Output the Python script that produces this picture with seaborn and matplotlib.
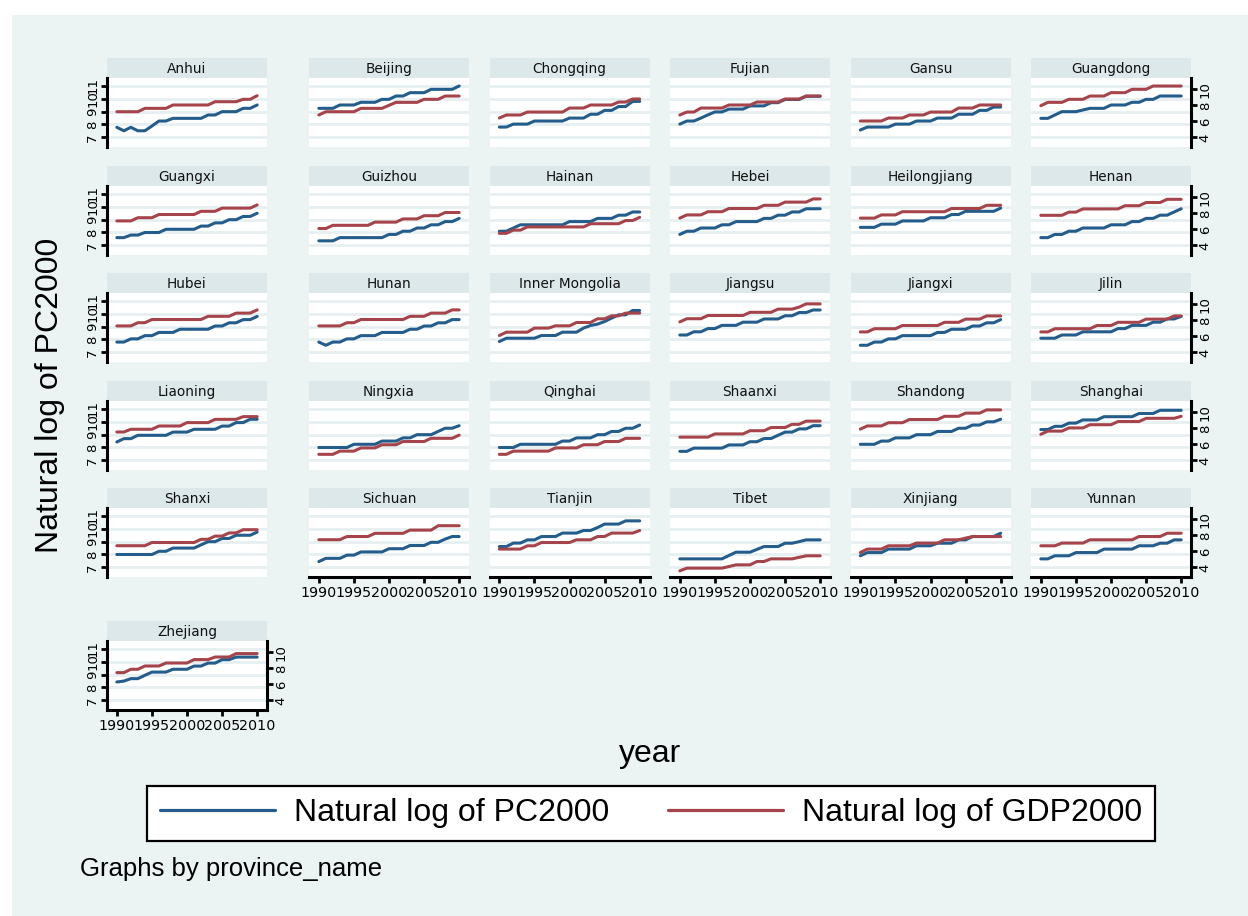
import matplotlib
matplotlib.use("Agg")
import matplotlib.pyplot as plt
import pandas as pd
import seaborn as sns
from matplotlib.patches import Rectangle
from matplotlib.lines import Line2D

sns.set_theme(style="white")
plt.rcParams['font.family'] = ['DejaVu Sans']
plt.rcParams['text.color'] = 'black'
plt.rcParams['xtick.color'] = 'black'
plt.rcParams['ytick.color'] = 'black'

years = list(range(1990, 2011))

provinces = ["Anhui", "Beijing", "Chongqing", "Fujian", "Gansu", "Guangdong",
             "Guangxi", "Guizhou", "Hainan", "Hebei", "Heilongjiang", "Henan",
             "Hubei", "Hunan", "Inner Mongolia", "Jiangsu", "Jiangxi", "Jilin",
             "Liaoning", "Ningxia", "Qinghai", "Shaanxi", "Shandong", "Shanghai",
             "Shanxi", "Sichuan", "Tianjin", "Tibet", "Xinjiang", "Yunnan",
             "Zhejiang"]

# Natural log of PC2000 (left axis) and GDP2000 (right axis), 1990-2010
pc_anhui = [7.78, 7.51, 7.78, 7.51, 7.51, 7.88, 8.27, 8.27, 8.48, 8.48, 8.48, 8.48, 8.48, 8.74, 8.74, 9.0, 9.0, 9.0, 9.26, 9.26, 9.52]
gdp_anhui = [7.2, 7.2, 7.2, 7.2, 7.62, 7.62, 7.62, 7.62, 8.04, 8.04, 8.04, 8.04, 8.04, 8.04, 8.45, 8.45, 8.45, 8.45, 8.75, 8.75, 9.2]
pc_beijing = [9.26, 9.26, 9.26, 9.52, 9.52, 9.52, 9.73, 9.73, 9.73, 9.96, 9.96, 10.22, 10.22, 10.48, 10.48, 10.48, 10.74, 10.74, 10.74, 10.74, 11.0]
gdp_beijing = [6.79, 7.2, 7.2, 7.2, 7.2, 7.2, 7.62, 7.62, 7.62, 7.62, 8.0, 8.37, 8.37, 8.37, 8.37, 8.75, 8.75, 8.75, 9.16, 9.16, 9.16]
pc_chongqing = [7.8, 7.8, 8.03, 8.03, 8.03, 8.27, 8.27, 8.27, 8.27, 8.27, 8.5, 8.5, 8.5, 8.8, 8.8, 9.1, 9.1, 9.4, 9.4, 9.8, 9.8]
gdp_chongqing = [6.41, 6.79, 6.79, 6.79, 7.16, 7.16, 7.16, 7.16, 7.16, 7.16, 7.66, 7.66, 7.66, 8.04, 8.04, 8.04, 8.04, 8.41, 8.41, 8.79, 8.79]
pc_fujian = [8.03, 8.27, 8.27, 8.5, 8.75, 8.98, 8.98, 9.2, 9.2, 9.2, 9.45, 9.45, 9.45, 9.7, 9.7, 9.95, 9.95, 9.95, 10.2, 10.2, 10.2]
gdp_fujian = [6.79, 7.16, 7.16, 7.66, 7.66, 7.66, 7.66, 8.04, 8.04, 8.04, 8.04, 8.41, 8.41, 8.41, 8.41, 8.79, 8.79, 8.79, 9.16, 9.16, 9.16]
pc_gansu = [7.57, 7.8, 7.8, 7.8, 7.8, 8.03, 8.03, 8.03, 8.27, 8.27, 8.27, 8.5, 8.5, 8.5, 8.8, 8.8, 8.8, 9.1, 9.1, 9.36, 9.36]
gdp_gansu = [6.04, 6.04, 6.04, 6.04, 6.41, 6.41, 6.41, 6.79, 6.79, 6.79, 7.16, 7.16, 7.16, 7.16, 7.66, 7.66, 7.66, 8.04, 8.04, 8.04, 8.04]
pc_guangdong = [8.48, 8.48, 8.74, 9.0, 9.0, 9.0, 9.13, 9.26, 9.26, 9.26, 9.52, 9.52, 9.52, 9.73, 9.73, 9.96, 9.96, 10.22, 10.22, 10.22, 10.22]
gdp_guangdong = [7.95, 8.37, 8.37, 8.37, 8.75, 8.75, 8.75, 9.16, 9.16, 9.16, 9.58, 9.58, 9.58, 10.0, 10.0, 10.0, 10.41, 10.41, 10.41, 10.41, 10.41]
pc_guangxi = [7.6, 7.6, 7.8, 7.8, 8.0, 8.0, 8.0, 8.25, 8.25, 8.25, 8.25, 8.25, 8.5, 8.5, 8.75, 8.75, 9.0, 9.0, 9.25, 9.25, 9.5]
gdp_guangxi = [7.05, 7.05, 7.05, 7.45, 7.45, 7.45, 7.85, 7.85, 7.85, 7.85, 7.85, 7.85, 8.25, 8.25, 8.25, 8.65, 8.65, 8.65, 8.65, 8.65, 9.05]
pc_guizhou = [7.35, 7.35, 7.35, 7.6, 7.6, 7.6, 7.6, 7.6, 7.6, 7.6, 7.85, 7.85, 8.1, 8.1, 8.35, 8.35, 8.6, 8.6, 8.85, 8.85, 9.1]
gdp_guizhou = [6.1, 6.1, 6.5, 6.5, 6.5, 6.5, 6.5, 6.5, 6.9, 6.9, 6.9, 6.9, 7.3, 7.3, 7.3, 7.7, 7.7, 7.7, 8.1, 8.1, 8.1]
pc_hainan = [8.1, 8.1, 8.35, 8.6, 8.6, 8.6, 8.6, 8.6, 8.6, 8.6, 8.85, 8.85, 8.85, 8.85, 9.1, 9.1, 9.1, 9.35, 9.35, 9.6, 9.6]
gdp_hainan = [5.5, 5.5, 5.9, 5.9, 6.3, 6.3, 6.3, 6.3, 6.3, 6.3, 6.3, 6.3, 6.3, 6.7, 6.7, 6.7, 6.7, 6.7, 7.1, 7.1, 7.5]
pc_hebei = [7.85, 8.1, 8.1, 8.35, 8.35, 8.35, 8.6, 8.6, 8.85, 8.85, 8.85, 8.85, 9.1, 9.1, 9.35, 9.35, 9.6, 9.6, 9.85, 9.85, 9.85]
gdp_hebei = [7.4, 7.8, 7.8, 7.8, 8.2, 8.2, 8.2, 8.6, 8.6, 8.6, 8.6, 8.6, 9.0, 9.0, 9.0, 9.4, 9.4, 9.4, 9.4, 9.8, 9.8]
pc_heilongjiang = [8.4, 8.4, 8.4, 8.65, 8.65, 8.65, 8.9, 8.9, 8.9, 8.9, 9.15, 9.15, 9.15, 9.4, 9.4, 9.65, 9.65, 9.65, 9.65, 9.65, 9.9]
gdp_heilongjiang = [7.4, 7.4, 7.4, 7.8, 7.8, 7.8, 8.2, 8.2, 8.2, 8.2, 8.2, 8.2, 8.2, 8.6, 8.6, 8.6, 8.6, 8.6, 9.0, 9.0, 9.0]
pc_henan = [7.6, 7.6, 7.85, 7.85, 8.1, 8.1, 8.35, 8.35, 8.35, 8.35, 8.6, 8.6, 8.6, 8.85, 8.85, 9.1, 9.1, 9.35, 9.35, 9.6, 9.85]
gdp_henan = [7.75, 7.75, 7.75, 7.75, 8.15, 8.15, 8.55, 8.55, 8.55, 8.55, 8.55, 8.55, 8.95, 8.95, 8.95, 9.35, 9.35, 9.35, 9.75, 9.75, 9.75]
pc_hubei = [7.8, 7.8, 8.05, 8.05, 8.3, 8.3, 8.55, 8.55, 8.55, 8.8, 8.8, 8.8, 8.8, 8.8, 9.05, 9.05, 9.3, 9.3, 9.55, 9.55, 9.8]
gdp_hubei = [7.3, 7.3, 7.3, 7.7, 7.7, 8.1, 8.1, 8.1, 8.1, 8.1, 8.1, 8.1, 8.1, 8.5, 8.5, 8.5, 8.5, 8.9, 8.9, 8.9, 9.3]
pc_hunan = [7.8, 7.55, 7.8, 7.8, 8.05, 8.05, 8.3, 8.3, 8.3, 8.55, 8.55, 8.55, 8.55, 8.8, 8.8, 9.05, 9.05, 9.3, 9.3, 9.55, 9.55]
gdp_hunan = [7.3, 7.3, 7.3, 7.3, 7.7, 7.7, 8.1, 8.1, 8.1, 8.1, 8.1, 8.1, 8.1, 8.5, 8.5, 8.5, 8.9, 8.9, 8.9, 9.3, 9.3]
pc_inner_mongolia = [7.84, 8.1, 8.1, 8.1, 8.1, 8.1, 8.31, 8.31, 8.31, 8.57, 8.57, 8.57, 8.89, 9.09, 9.2, 9.4, 9.67, 9.92, 9.92, 10.26, 10.26]
gdp_inner_mongolia = [6.1, 6.52, 6.52, 6.52, 6.52, 7.03, 7.03, 7.03, 7.31, 7.31, 7.31, 7.73, 7.73, 7.73, 8.19, 8.19, 8.56, 8.56, 8.9, 8.9, 8.9]
pc_jiangsu = [8.35, 8.35, 8.6, 8.6, 8.85, 8.85, 9.1, 9.1, 9.1, 9.35, 9.35, 9.35, 9.6, 9.6, 9.6, 9.85, 9.85, 10.1, 10.1, 10.3, 10.3]
gdp_jiangsu = [7.8, 8.2, 8.2, 8.2, 8.6, 8.6, 8.6, 8.6, 8.6, 8.6, 9.0, 9.0, 9.0, 9.0, 9.4, 9.4, 9.4, 9.65, 10.05, 10.05, 10.05]
pc_jiangxi = [7.55, 7.55, 7.8, 7.8, 8.05, 8.05, 8.3, 8.3, 8.3, 8.3, 8.3, 8.55, 8.55, 8.8, 8.8, 8.8, 9.05, 9.05, 9.3, 9.3, 9.55]
gdp_jiangxi = [6.55, 6.55, 6.95, 6.95, 6.95, 6.95, 7.35, 7.35, 7.35, 7.35, 7.35, 7.35, 7.75, 7.75, 7.75, 8.15, 8.15, 8.15, 8.55, 8.55, 8.55]
pc_jilin = [8.1, 8.1, 8.1, 8.35, 8.35, 8.35, 8.6, 8.6, 8.6, 8.6, 8.6, 8.85, 8.85, 9.1, 9.1, 9.1, 9.35, 9.35, 9.6, 9.6, 9.8]
gdp_jilin = [6.55, 6.55, 6.95, 6.95, 6.95, 6.95, 6.95, 6.95, 7.35, 7.35, 7.35, 7.75, 7.75, 7.75, 7.75, 8.15, 8.15, 8.15, 8.15, 8.55, 8.55]
pc_liaoning = [8.43, 8.69, 8.69, 8.95, 8.95, 8.95, 8.95, 8.95, 9.2, 9.2, 9.2, 9.42, 9.42, 9.42, 9.42, 9.67, 9.67, 9.94, 9.94, 10.2, 10.2]
gdp_liaoning = [7.54, 7.54, 7.88, 7.88, 7.88, 7.88, 8.29, 8.29, 8.29, 8.29, 8.71, 8.71, 8.71, 8.71, 9.12, 9.12, 9.12, 9.12, 9.46, 9.46, 9.46]
pc_ningxia = [8.0, 8.0, 8.0, 8.0, 8.0, 8.25, 8.25, 8.25, 8.25, 8.5, 8.5, 8.5, 8.75, 8.75, 9.0, 9.0, 9.0, 9.25, 9.5, 9.5, 9.7]
gdp_ningxia = [4.75, 4.75, 4.75, 5.15, 5.15, 5.15, 5.55, 5.55, 5.55, 5.95, 5.95, 5.95, 6.35, 6.35, 6.35, 6.35, 6.75, 6.75, 6.75, 6.75, 7.15]
pc_qinghai = [8.0, 8.0, 8.0, 8.25, 8.25, 8.25, 8.25, 8.25, 8.25, 8.5, 8.5, 8.75, 8.75, 8.75, 9.0, 9.0, 9.25, 9.25, 9.5, 9.5, 9.75]
gdp_qinghai = [4.75, 4.75, 5.15, 5.15, 5.15, 5.15, 5.15, 5.15, 5.55, 5.55, 5.55, 5.55, 5.95, 5.95, 5.95, 6.35, 6.35, 6.35, 6.75, 6.75, 6.75]
pc_shaanxi = [7.7, 7.7, 7.95, 7.95, 7.95, 7.95, 7.95, 8.2, 8.2, 8.2, 8.45, 8.45, 8.7, 8.7, 8.95, 9.2, 9.2, 9.45, 9.45, 9.7, 9.7]
gdp_shaanxi = [6.9, 6.9, 6.9, 6.9, 6.9, 7.3, 7.3, 7.3, 7.3, 7.3, 7.7, 7.7, 7.7, 8.1, 8.1, 8.1, 8.5, 8.5, 8.9, 8.9, 8.9]
pc_shandong = [8.25, 8.25, 8.25, 8.5, 8.5, 8.75, 8.75, 8.75, 9.0, 9.0, 9.0, 9.25, 9.25, 9.25, 9.5, 9.5, 9.75, 9.75, 10.0, 10.0, 10.2]
gdp_shandong = [7.9, 8.3, 8.3, 8.3, 8.7, 8.7, 8.7, 9.1, 9.1, 9.1, 9.1, 9.1, 9.5, 9.5, 9.5, 9.9, 9.9, 9.9, 10.3, 10.3, 10.3]
pc_shanghai = [9.4, 9.4, 9.65, 9.65, 9.9, 9.9, 10.15, 10.15, 10.15, 10.4, 10.4, 10.4, 10.4, 10.4, 10.65, 10.65, 10.65, 10.9, 10.9, 10.9, 10.9]
gdp_shanghai = [7.25, 7.65, 7.65, 7.65, 8.05, 8.05, 8.05, 8.45, 8.45, 8.45, 8.45, 8.85, 8.85, 8.85, 8.85, 9.25, 9.25, 9.25, 9.25, 9.25, 9.5]
pc_shanxi = [8.0, 8.0, 8.0, 8.0, 8.0, 8.0, 8.25, 8.25, 8.5, 8.5, 8.5, 8.5, 8.75, 9.0, 9.0, 9.25, 9.25, 9.5, 9.5, 9.5, 9.75]
gdp_shanxi = [6.7, 6.7, 6.7, 6.7, 6.7, 7.1, 7.1, 7.1, 7.1, 7.1, 7.1, 7.1, 7.5, 7.5, 7.9, 7.9, 8.3, 8.3, 8.7, 8.7, 8.7]
pc_sichuan = [7.45, 7.7, 7.7, 7.7, 7.95, 7.95, 8.2, 8.2, 8.2, 8.2, 8.45, 8.45, 8.45, 8.7, 8.7, 8.7, 8.95, 8.95, 9.2, 9.4, 9.4]
gdp_sichuan = [7.45, 7.45, 7.45, 7.45, 7.85, 7.85, 7.85, 7.85, 8.25, 8.25, 8.25, 8.25, 8.25, 8.65, 8.65, 8.65, 8.65, 9.2, 9.2, 9.2, 9.2]
pc_tianjin = [8.62, 8.62, 8.89, 8.89, 9.14, 9.14, 9.4, 9.4, 9.4, 9.67, 9.67, 9.67, 9.87, 9.87, 10.1, 10.37, 10.37, 10.37, 10.62, 10.62, 10.62]
gdp_tianjin = [6.28, 6.28, 6.28, 6.28, 6.69, 6.69, 7.1, 7.1, 7.1, 7.1, 7.1, 7.44, 7.44, 7.44, 7.85, 7.85, 8.28, 8.28, 8.28, 8.28, 8.6]
pc_tibet = [7.66, 7.66, 7.66, 7.66, 7.66, 7.66, 7.66, 7.92, 8.18, 8.18, 8.18, 8.4, 8.62, 8.62, 8.62, 8.88, 8.88, 9.0, 9.14, 9.14, 9.14]
gdp_tibet = [3.56, 3.9, 3.9, 3.9, 3.9, 3.9, 3.9, 4.1, 4.31, 4.31, 4.31, 4.73, 4.73, 5.06, 5.06, 5.06, 5.06, 5.25, 5.44, 5.44, 5.44]
pc_xinjiang = [7.9, 8.15, 8.15, 8.15, 8.42, 8.42, 8.42, 8.42, 8.68, 8.68, 8.68, 8.88, 8.88, 8.88, 9.14, 9.14, 9.4, 9.4, 9.4, 9.4, 9.66]
gdp_xinjiang = [5.85, 6.28, 6.28, 6.28, 6.69, 6.69, 6.69, 6.69, 7.03, 7.03, 7.03, 7.03, 7.44, 7.44, 7.44, 7.65, 7.85, 7.85, 7.85, 7.85, 7.85]
pc_yunnan = [7.66, 7.66, 7.9, 7.9, 7.9, 8.15, 8.15, 8.15, 8.15, 8.42, 8.42, 8.42, 8.42, 8.42, 8.68, 8.68, 8.68, 8.88, 8.88, 9.14, 9.14]
gdp_yunnan = [6.69, 6.69, 6.69, 7.03, 7.03, 7.03, 7.03, 7.44, 7.44, 7.44, 7.44, 7.44, 7.44, 7.44, 7.85, 7.85, 7.85, 7.85, 8.26, 8.26, 8.26]
pc_zhejiang = [8.43, 8.5, 8.69, 8.69, 8.95, 9.2, 9.2, 9.2, 9.42, 9.42, 9.42, 9.67, 9.67, 9.9, 9.9, 10.17, 10.17, 10.37, 10.37, 10.37, 10.37]
gdp_zhejiang = [7.46, 7.46, 7.88, 7.88, 8.29, 8.29, 8.29, 8.66, 8.66, 8.66, 8.66, 9.09, 9.09, 9.09, 9.41, 9.41, 9.41, 9.84, 9.84, 9.84, 9.84]

pc_series = [pc_anhui, pc_beijing, pc_chongqing, pc_fujian, pc_gansu, pc_guangdong,
             pc_guangxi, pc_guizhou, pc_hainan, pc_hebei, pc_heilongjiang, pc_henan,
             pc_hubei, pc_hunan, pc_inner_mongolia, pc_jiangsu, pc_jiangxi, pc_jilin,
             pc_liaoning, pc_ningxia, pc_qinghai, pc_shaanxi, pc_shandong, pc_shanghai,
             pc_shanxi, pc_sichuan, pc_tianjin, pc_tibet, pc_xinjiang, pc_yunnan,
             pc_zhejiang]
gdp_series = [gdp_anhui, gdp_beijing, gdp_chongqing, gdp_fujian, gdp_gansu, gdp_guangdong,
              gdp_guangxi, gdp_guizhou, gdp_hainan, gdp_hebei, gdp_heilongjiang, gdp_henan,
              gdp_hubei, gdp_hunan, gdp_inner_mongolia, gdp_jiangsu, gdp_jiangxi, gdp_jilin,
              gdp_liaoning, gdp_ningxia, gdp_qinghai, gdp_shaanxi, gdp_shandong, gdp_shanghai,
              gdp_shanxi, gdp_sichuan, gdp_tianjin, gdp_tibet, gdp_xinjiang, gdp_yunnan,
              gdp_zhejiang]

pc_ticks = [7, 8, 9, 10, 11]
gdp_ticks = [4, 6, 8, 10]
year_ticks = [1990, 1995, 2000, 2005, 2010]

records = []
for name, pc, gdp in zip(provinces, pc_series, gdp_series):
    for yr, a, b in zip(years, pc, gdp):
        records.append({"province_name": name, "year": yr, "ln_pc2000": a, "ln_gdp2000": b})
df = pd.DataFrame(records)

# ---- styling ----
BG = "#EBF3F3"
STRIP = "#DDE8EA"
GRID = "#E6EFF1"
BLUE = "#245C8B"
RED = "#A6444C"
TITLE_FONT = ["Liberation Sans", "DejaVu Sans"]

W, H = 1248, 916
fig = plt.figure(figsize=(W / 100, H / 100), dpi=100)
fig.patch.set_facecolor("white")
fig.patches.append(Rectangle((12 / W, 0), 1 - 12 / W, 1 - 15 / H,
                             transform=fig.transFigure, facecolor=BG,
                             edgecolor="none", zorder=-10))


def rect(x, y_top, w, h):
    return [x / W, 1 - (y_top + h) / H, w / W, h / H]


col_left = [107, 309, 489.5, 670, 850.5, 1031]
row_top = [58, 166, 273, 381, 488, 621]
PW, SH, PH = 160, 20.3, 68.4
n = len(provinces)

for i, name in enumerate(provinces):
    r, c = divmod(i, 6)
    x0, y0 = col_left[c], row_top[r]
    show_left = c == 0
    show_right = c == 5 or i == n - 1
    show_bottom = i + 6 >= n

    # strip with the panel name
    sax = fig.add_axes(rect(x0, y0, PW, SH))
    sax.set_facecolor(STRIP)
    sax.set_xticks([]); sax.set_yticks([])
    for s in sax.spines.values():
        s.set_visible(False)
    sax.text(0.5, 0.47, name, ha="center", va="center", fontsize=9.8, color="#111111")

    ax = fig.add_axes(rect(x0, y0 + SH, PW, PH))
    ax.set_facecolor("white")
    sub = df[df["province_name"] == name]
    sns.lineplot(data=sub, x="year", y="ln_pc2000", ax=ax, color=BLUE,
                 linewidth=2.2, legend=False)
    ax2 = ax.twinx()
    sns.lineplot(data=sub, x="year", y="ln_gdp2000", ax=ax2, color=RED,
                 linewidth=2.2, legend=False)

    ax.set_xlim(1988.6, 2011.4)
    ax.set_ylim(6.27, 11.6)
    ax2.set_ylim(2.83, 11.375)
    ax.set_xticks(year_ticks)
    ax.set_yticks(pc_ticks)
    ax2.set_yticks(gdp_ticks)
    ax.set_xlabel(""); ax.set_ylabel(""); ax2.set_ylabel("")
    ax.grid(False); ax2.grid(False)
    ax.yaxis.grid(True, color=GRID, linewidth=2.0)
    ax.set_axisbelow(True)

    for s in list(ax.spines.values()) + list(ax2.spines.values()):
        s.set_visible(False)
    for side, flag, a in (("left", show_left, ax), ("bottom", show_bottom, ax),
                          ("right", show_right, ax2)):
        if flag:
            a.spines[side].set_visible(True)
            a.spines[side].set_color("black")
            a.spines[side].set_linewidth(2.2)

    ax.tick_params(axis="y", left=show_left, labelleft=show_left, right=False,
                   labelright=False, length=4, width=2, color="black",
                   labelsize=9.5, pad=1.5)
    ax.tick_params(axis="x", bottom=show_bottom, labelbottom=show_bottom,
                   length=4, width=2, color="black", labelsize=10.3, pad=2.5)
    ax2.tick_params(axis="y", right=show_right, labelright=show_right, left=False,
                    labelleft=False, length=4, width=2, color="black",
                    labelsize=9.5, pad=1.5)
    for lbl in ax.get_yticklabels():
        lbl.set_rotation(90); lbl.set_va("center"); lbl.set_ha("right")
    for lbl in ax2.get_yticklabels():
        lbl.set_rotation(90); lbl.set_va("center"); lbl.set_ha("left")

# axis titles
fig.text(50 / W, 1 - 395 / H, "Natural log of PC2000", rotation=90, ha="center",
         va="center", fontsize=23, family=TITLE_FONT)
fig.text(650 / W, 1 - 762 / H, "year", ha="center", va="baseline",
         fontsize=23, family=TITLE_FONT)

# legend
handles = [Line2D([], [], color=BLUE, linewidth=2.3),
           Line2D([], [], color=RED, linewidth=2.3)]
leg = fig.legend(handles, ["Natural log of PC2000", "Natural log of GDP2000"],
                 loc="center", ncol=2, mode="expand",
                 bbox_to_anchor=(147 / W, 1 - 842 / H, (1155 - 147) / W, 57 / H),
                 prop={"family": TITLE_FONT, "size": 23}, frameon=True,
                 fancybox=False, framealpha=1, edgecolor="black",
                 handlelength=3.6, handletextpad=0.6, borderpad=0.4,
                 borderaxespad=0, columnspacing=1.0)
leg.get_frame().set_linewidth(1.6)
leg.get_frame().set_facecolor("white")

fig.text(80 / W, 1 - 876 / H, "Graphs by province_name", ha="left", va="baseline",
         fontsize=18.5, family=TITLE_FONT)

fig.savefig("out.png", dpi=100, facecolor=fig.get_facecolor())
